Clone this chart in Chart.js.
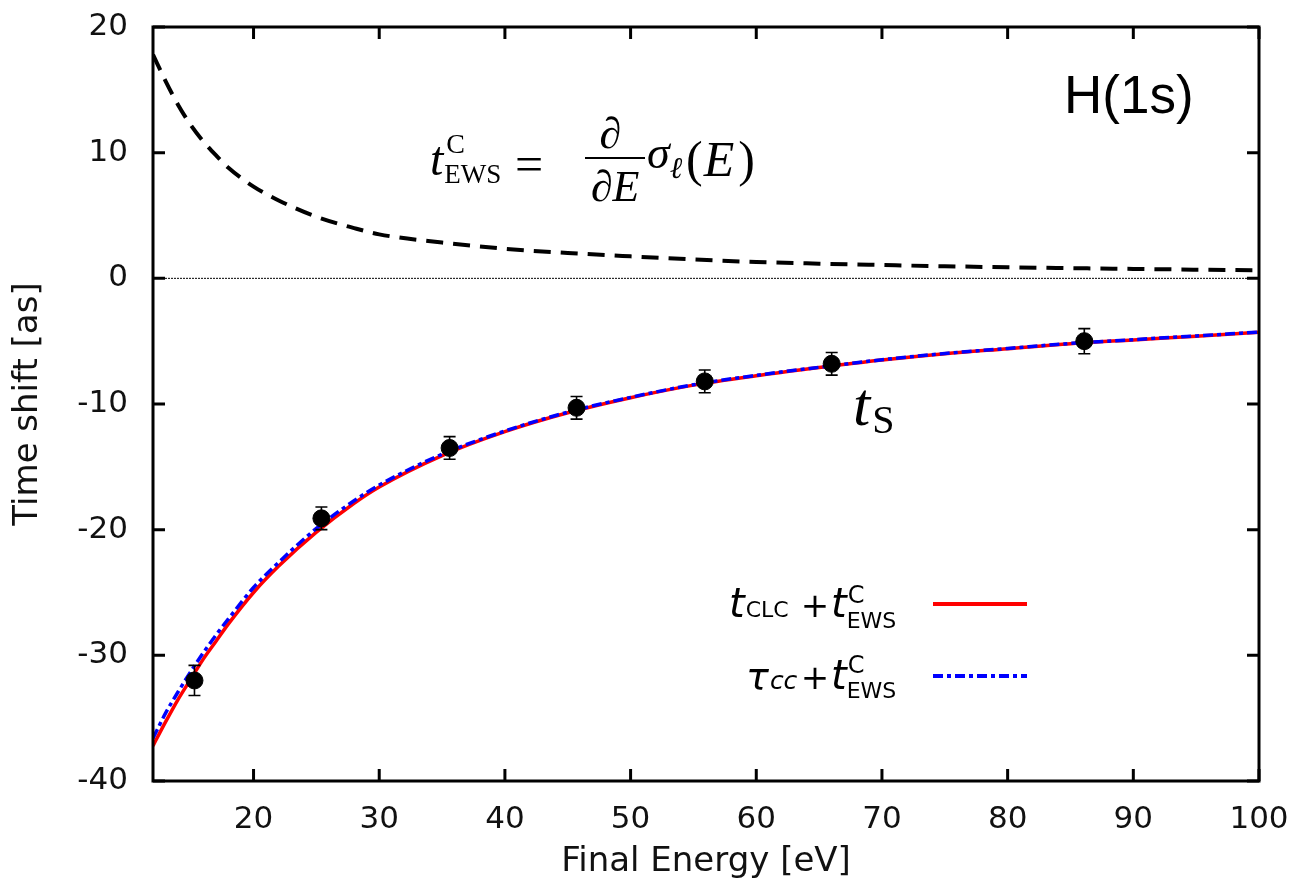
<!DOCTYPE html>
<html>
<head>
<meta charset="utf-8">
<script src="https://cdn.jsdelivr.net/npm/chart.js@4.4.0/dist/chart.umd.min.js"></script>
<style>
  html, body { margin: 0; padding: 0; background: #fff; }
  #wrap { width: 1301px; height: 885px; }
</style>
</head>
<body>
<div id="wrap"><canvas id="plot" width="1301" height="885"></canvas></div>
<script>
// energy grid for the curves (eV)
const energyGrid = [12,13,14,15,16,17,18,20,22,25,28,30,35,40,45,50,55,60,65,70,75,80,85,90,95,100];
// Coulomb EWS delay (dashed black)
const ewsValues = [17.8,15.7,13.8,12.2,10.9,9.8,8.8,7.3,6.2,4.9,4.0,3.5,2.85,2.35,2.02,1.75,1.5,1.3,1.17,1.06,0.96,0.88,0.81,0.75,0.69,0.64];
// t_CLC + t_EWS (red solid)
const clcValues = [-37.2,-35.3,-33.5,-31.9,-30.3,-28.9,-27.5,-25.0,-22.9,-20.2,-17.9,-16.6,-14.1,-12.2,-10.7,-9.5,-8.5,-7.75,-7.1,-6.5,-6.0,-5.6,-5.2,-4.9,-4.6,-4.3];
// tau_cc + t_EWS (blue dash-dot)
const tauValues = [-36.6,-34.6,-32.9,-31.3,-29.8,-28.4,-27.1,-24.6,-22.6,-19.9,-17.7,-16.45,-14.0,-12.15,-10.65,-9.47,-8.47,-7.72,-7.08,-6.48,-5.98,-5.58,-5.18,-4.88,-4.58,-4.28];
// t_S with error bars (black dots)
const pointEnergy = [15.3,25.4,35.6,45.7,55.9,66.0,86.1];
const pointShift = [-32.0,-19.1,-13.5,-10.3,-8.2,-6.8,-5.0];
const pointErr = [1.2,0.9,0.9,0.9,0.9,0.9,1.0];
// axes
const xTicks = [20,30,40,50,60,70,80,90,100];
const xRange = [12, 100];
const yRange = [-40, 20];

const toXY = (xs, ys) => xs.map((x, i) => ({x, y: ys[i]}));

// error bars + frame with inward ticks + text labels
const decor = {
  id: 'decor',
  afterDatasetsDraw(chart){
    const {ctx, scales:{x, y}} = chart;
    ctx.save();
    ctx.strokeStyle = '#000';
    ctx.lineWidth = 1.6;
    pointEnergy.forEach((e, i) => {
      const px = x.getPixelForValue(e);
      const y1 = y.getPixelForValue(pointShift[i] + pointErr[i]);
      const y2 = y.getPixelForValue(pointShift[i] - pointErr[i]);
      ctx.beginPath();
      ctx.moveTo(px, y1); ctx.lineTo(px, y2);
      ctx.moveTo(px-6, y1); ctx.lineTo(px+6, y1);
      ctx.moveTo(px-6, y2); ctx.lineTo(px+6, y2);
      ctx.stroke();
    });
    ctx.restore();
  },
  afterDraw(chart){
    const {ctx, chartArea:a, scales:{x, y}} = chart;
    ctx.save();
    ctx.strokeStyle = '#000';
    ctx.lineWidth = 3;
    ctx.strokeRect(a.left, a.top, a.right-a.left, a.bottom-a.top);
    const tl = 12;
    ctx.beginPath();
    xTicks.forEach(v => {
      const px = x.getPixelForValue(v);
      ctx.moveTo(px, a.bottom); ctx.lineTo(px, a.bottom-tl);
      ctx.moveTo(px, a.top); ctx.lineTo(px, a.top+tl);
    });
    y.ticks.forEach(t => {
      const py = y.getPixelForValue(t.value);
      ctx.moveTo(a.left, py); ctx.lineTo(a.left+tl, py);
      ctx.moveTo(a.right, py); ctx.lineTo(a.right-tl, py);
    });
    ctx.stroke();

    // draws a piece of text and returns where it ends
    function txt(s, px, py, font, align){
      ctx.font = font;
      ctx.textAlign = align || 'left';
      ctx.textBaseline = 'alphabetic';
      ctx.fillText(s, px, py);
      return px + ctx.measureText(s).width;
    }
    ctx.fillStyle = '#000';
    const serif = '"Liberation Serif", "DejaVu Serif", serif';
    const sans = '"DejaVu Sans", sans-serif';

    // H(1s)
    txt('H(1s)', 1064, 113, '53px "Liberation Sans", Arial, sans-serif');

    // t_EWS^C = d/dE sigma_l(E)
    let ex = txt('t', 430, 175, 'italic 48px ' + serif);
    txt('C', ex + 3, 153, '28px ' + serif);
    txt('EWS', ex + 1, 183, '27px ' + serif);
    txt('=', 515, 181, '50px ' + serif);
    txt('\u2202', 610, 148, 'italic 44px ' + serif, 'center');
    ctx.fillRect(585, 157, 60, 2);
    txt('\u2202E', 615, 201, 'italic 44px ' + serif, 'center');
    ex = txt('\u03c3', 647, 168, 'italic 46px ' + serif);
    txt('\u2113', ex, 178, 'italic 30px ' + serif);
    ex = txt('(', 686, 176, '50px ' + serif);
    ex = txt('E', ex + 1, 176, 'italic 50px ' + serif);
    txt(')', ex + 4, 176, '50px ' + serif);

    // t_S
    ex = txt('t', 853, 425, 'italic 62px ' + serif);
    txt('S', ex + 2, 433, '40px ' + serif);

    // legend
    const ly1 = 604, ly2 = 676;
    ex = txt('t', 729, 617, 'italic 40px ' + sans);
    txt('CLC', ex + 1, 617, '22px ' + sans);
    txt('+', 815, 617, '34px ' + sans, 'center');
    ex = txt('t', 831, 617, 'italic 40px ' + sans);
    txt('C', ex + 1, 603, '24px ' + sans);
    txt('EWS', ex, 628, '22px ' + sans);
    ex = txt('\u03c4', 746, 689, 'italic 38px ' + sans);
    txt('cc', ex + 1, 689, 'italic 25px ' + sans);
    txt('+', 815, 689, '34px ' + sans, 'center');
    ex = txt('t', 831, 689, 'italic 40px ' + sans);
    txt('C', ex + 1, 673, '24px ' + sans);
    txt('EWS', ex, 698, '22px ' + sans);

    ctx.lineWidth = 4;
    ctx.strokeStyle = '#ff0000';
    ctx.beginPath(); ctx.moveTo(933, ly1); ctx.lineTo(1027, ly1); ctx.stroke();
    ctx.strokeStyle = '#0000ff';
    ctx.setLineDash([10,4,4,4]);
    ctx.beginPath(); ctx.moveTo(933, ly2); ctx.lineTo(1027, ly2); ctx.stroke();
    ctx.restore();
  }
};

// keep the plot box where the reference has it
function fixX(s){ s.height = 104; s.paddingLeft = 0; s.paddingRight = 0; }
function fixY(s){ s.width = 153; s.paddingTop = 0; s.paddingBottom = 0; }

new Chart(document.getElementById('plot'), {
  type: 'scatter',
  data: {
    datasets: [
      { label: 't_S', data: toXY(pointEnergy, pointShift), showLine: false,
        pointRadius: 8.5, pointBackgroundColor: '#000', pointBorderColor: '#000', order: 0 },
      { label: 'tau_cc + t_EWS', data: toXY(energyGrid, tauValues), showLine: true,
        borderColor: '#0000ff', borderWidth: 3.5, borderDash: [10,4,4,4], pointRadius: 0,
        cubicInterpolationMode: 'monotone', order: 1 },
      { label: 't_CLC + t_EWS', data: toXY(energyGrid, clcValues), showLine: true,
        borderColor: '#ff0000', borderWidth: 3.5, pointRadius: 0,
        cubicInterpolationMode: 'monotone', order: 2 },
      { label: 't_EWS', data: toXY(energyGrid, ewsValues), showLine: true,
        borderColor: '#000', borderWidth: 4, borderDash: [17,10], pointRadius: 0,
        cubicInterpolationMode: 'monotone', order: 3 },
      { label: 'zero', data: toXY(xRange, [0,0]), showLine: true,
        borderColor: '#000', borderWidth: 1, borderDash: [2,1], pointRadius: 0, order: 4 }
    ]
  },
  options: {
    responsive: false,
    animation: false,
    layout: { padding: { top: 27, right: 42, left: 0, bottom: 0 } },
    plugins: { legend: { display: false }, tooltip: { enabled: false } },
    scales: {
      x: {
        type: 'linear', min: xRange[0], max: xRange[1],
        grid: { display: false, drawTicks: false }, border: { display: false },
        afterBuildTicks: s => { s.ticks = xTicks.map(v => ({value: v})); },
        afterFit: fixX,
        ticks: { color: '#111', padding: 20, maxRotation: 0, font: { family: 'DejaVu Sans', size: 31 } },
        title: { display: true, text: 'Final Energy [eV]', color: '#111',
                 font: { family: 'DejaVu Sans', size: 34 }, padding: { top: 0, bottom: 2 } }
      },
      y: {
        type: 'linear', min: yRange[0], max: yRange[1],
        grid: { display: false, drawTicks: false }, border: { display: false },
        afterFit: fixY,
        ticks: { stepSize: 10, color: '#111', padding: 25, font: { family: 'DejaVu Sans', size: 31 } },
        title: { display: true, text: 'Time shift [as]', color: '#111',
                 font: { family: 'DejaVu Sans', size: 34 }, padding: { top: 8, bottom: 0 } }
      }
    }
  },
  plugins: [decor]
});
</script>
</body>
</html>
